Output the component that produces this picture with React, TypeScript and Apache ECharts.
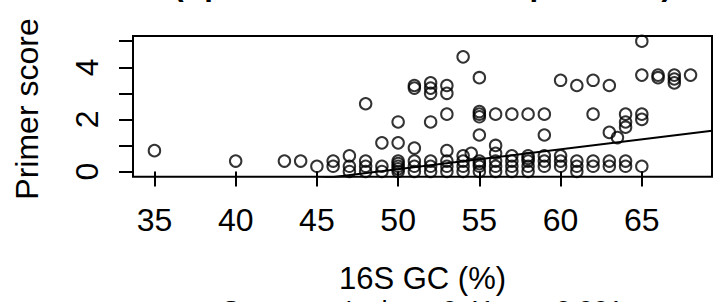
import React, { useEffect, useRef } from "react";
import * as echarts from "echarts";

// 16S GC (%) and primer score
const gcPercent: number[] = [
  35, 40, 43, 44, 45, 46, 46,
  47, 47, 47,
  48, 48, 48, 48,
  49, 49, 49,
  50, 50, 50, 50, 50, 50, 50,
  51, 51, 51, 51, 51, 51,
  52, 52, 52, 52, 52, 52, 52,
  53, 53, 53, 53, 53, 53, 53,
  54, 54, 54, 54, 54, 54.5,
  55, 55, 55, 55, 55, 55, 55, 55, 55,
  56, 56, 56, 56, 56, 56,
  57, 57, 57, 57, 57,
  58, 58, 58, 58, 58, 58,
  59, 59, 59, 59, 59,
  60, 60, 60, 60,
  61, 61, 61, 61,
  62, 62, 62, 62,
  63, 63, 63, 63, 63.5,
  64, 64, 64, 64, 64,
  65, 65, 65, 65, 65,
  66, 66,
  67, 67, 67,
  68,
];
const primerScore: number[] = [
  0.8, 0.4, 0.4, 0.4, 0.2, 0.4, 0.2,
  0.6, 0.2, 0.0,
  2.6, 0.4, 0.2, 0.0,
  1.1, 0.2, 0.0,
  1.9, 1.1, 0.4, 0.3, 0.2, 0.1, 0.0,
  3.3, 3.2, 0.9, 0.4, 0.2, 0.0,
  3.4, 3.2, 3.0, 1.9, 0.4, 0.2, 0.0,
  3.3, 3.0, 2.2, 0.8, 0.4, 0.2, 0.0,
  4.4, 0.6, 0.4, 0.2, 0.0, 0.7,
  3.6, 2.3, 2.2, 2.1, 1.4, 0.4, 0.3, 0.2, 0.0,
  2.2, 1.0, 0.7, 0.4, 0.2, 0.0,
  2.2, 0.6, 0.4, 0.2, 0.0,
  2.2, 0.6, 0.5, 0.4, 0.2, 0.0,
  2.2, 1.4, 0.6, 0.4, 0.2,
  3.5, 0.6, 0.4, 0.2,
  3.3, 0.4, 0.2, 0.0,
  3.5, 2.2, 0.4, 0.2,
  3.3, 1.5, 0.4, 0.2, 1.3,
  2.2, 1.9, 1.7, 0.4, 0.2,
  5.0, 3.7, 2.2, 2.0, 0.2,
  3.7, 3.6,
  3.7, 3.55, 3.4,
  3.7,
];

// least-squares line shown in the reference
const fitIntercept = -3.72;
const fitSlope = 0.0762;

const xTicks: number[] = [35, 40, 45, 50, 55, 60, 65];
const yTicks: number[] = [0, 1, 2, 3, 4, 5];
const yTickLabels: number[] = [0, 2, 4];

const X_MIN = 33.68;
const X_MAX = 69.32;
const Y_MIN = -0.2;
const Y_MAX = 5.2;

const titleText = "(Spearman's rho = 0.41, p < 0.001)";
const subText = "Spearman's rho = 0.41, p < 0.001";
const xName = "16S GC (%)";
const yName = "Primer score";

const FONT = "'Liberation Sans', Arial, Helvetica, sans-serif";

export default function App() {
  const ref = useRef<HTMLDivElement>(null);
  useEffect(() => {
    if (!ref.current) return;
    const chart = echarts.init(ref.current, null, { renderer: "svg" });
    const points = gcPercent.map((x, i) => [x, primerScore[i]]);
    const fitLine = [
      [X_MIN, fitIntercept + fitSlope * X_MIN],
      [X_MAX, fitIntercept + fitSlope * X_MAX],
    ];
    chart.setOption({
      animation: false,
      backgroundColor: "#ffffff",
      textStyle: { fontFamily: FONT },
      grid: {
        left: 133,
        right: 10,
        top: 36,
        bottom: 125.3,
        show: true,
        borderColor: "#000",
        borderWidth: 2,
        backgroundColor: "transparent",
      },
      xAxis: {
        type: "value",
        min: X_MIN,
        max: X_MAX,
        splitLine: { show: false },
        axisLine: { show: false },
        axisTick: {
          show: true,
          inside: false,
          length: 15,
          customValues: xTicks,
          lineStyle: { color: "#000", width: 2 },
        },
        axisLabel: {
          customValues: xTicks,
          margin: 27,
          color: "#000",
          fontSize: 32,
          fontFamily: FONT,
        },
      },
      yAxis: {
        type: "value",
        min: Y_MIN,
        max: Y_MAX,
        splitLine: { show: false },
        axisLine: { show: false },
        axisTick: {
          show: true,
          inside: false,
          length: 14,
          customValues: yTicks,
          lineStyle: { color: "#000", width: 2 },
        },
        axisLabel: {
          customValues: yTickLabels,
          rotate: 90,
          margin: 30,
          color: "#000",
          fontSize: 32,
          fontFamily: FONT,
        },
      },
      graphic: [
        {
          type: "text",
          x: 422.5,
          y: -15.5,
          silent: true,
          style: {
            text: titleText,
            fill: "#000",
            font: `bold 31px ${FONT}`,
            textAlign: "center",
            textVerticalAlign: "middle",
          },
        },
        {
          type: "text",
          x: 422.5,
          y: 278.3,
          silent: true,
          style: {
            text: xName,
            fill: "#000",
            font: `31px ${FONT}`,
            textAlign: "center",
            textVerticalAlign: "middle",
          },
        },
        {
          type: "text",
          x: 422.5,
          y: 310.5,
          silent: true,
          style: {
            text: subText,
            fill: "#000",
            font: `27px ${FONT}`,
            textAlign: "center",
            textVerticalAlign: "middle",
          },
        },
        {
          type: "text",
          x: 27.3,
          y: 109,
          rotation: Math.PI / 2,
          silent: true,
          style: {
            text: yName,
            fill: "#000",
            font: `32px ${FONT}`,
            textAlign: "center",
            textVerticalAlign: "middle",
          },
        },
      ],
      series: [
        {
          type: "scatter",
          data: points,
          symbol: "circle",
          symbolSize: 11.5,
          itemStyle: {
            color: "rgba(0,0,0,0)",
            borderColor: "#000",
            borderWidth: 2,
          },
          silent: true,
        },
        {
          type: "line",
          data: fitLine,
          showSymbol: false,
          clip: true,
          lineStyle: { color: "#000", width: 2 },
          silent: true,
        },
      ],
    });
    return () => chart.dispose();
  }, []);
  return (
    <div
      ref={ref}
      style={{ position: "fixed", left: 0, top: 0, width: 722, height: 302 }}
    />
  );
}
